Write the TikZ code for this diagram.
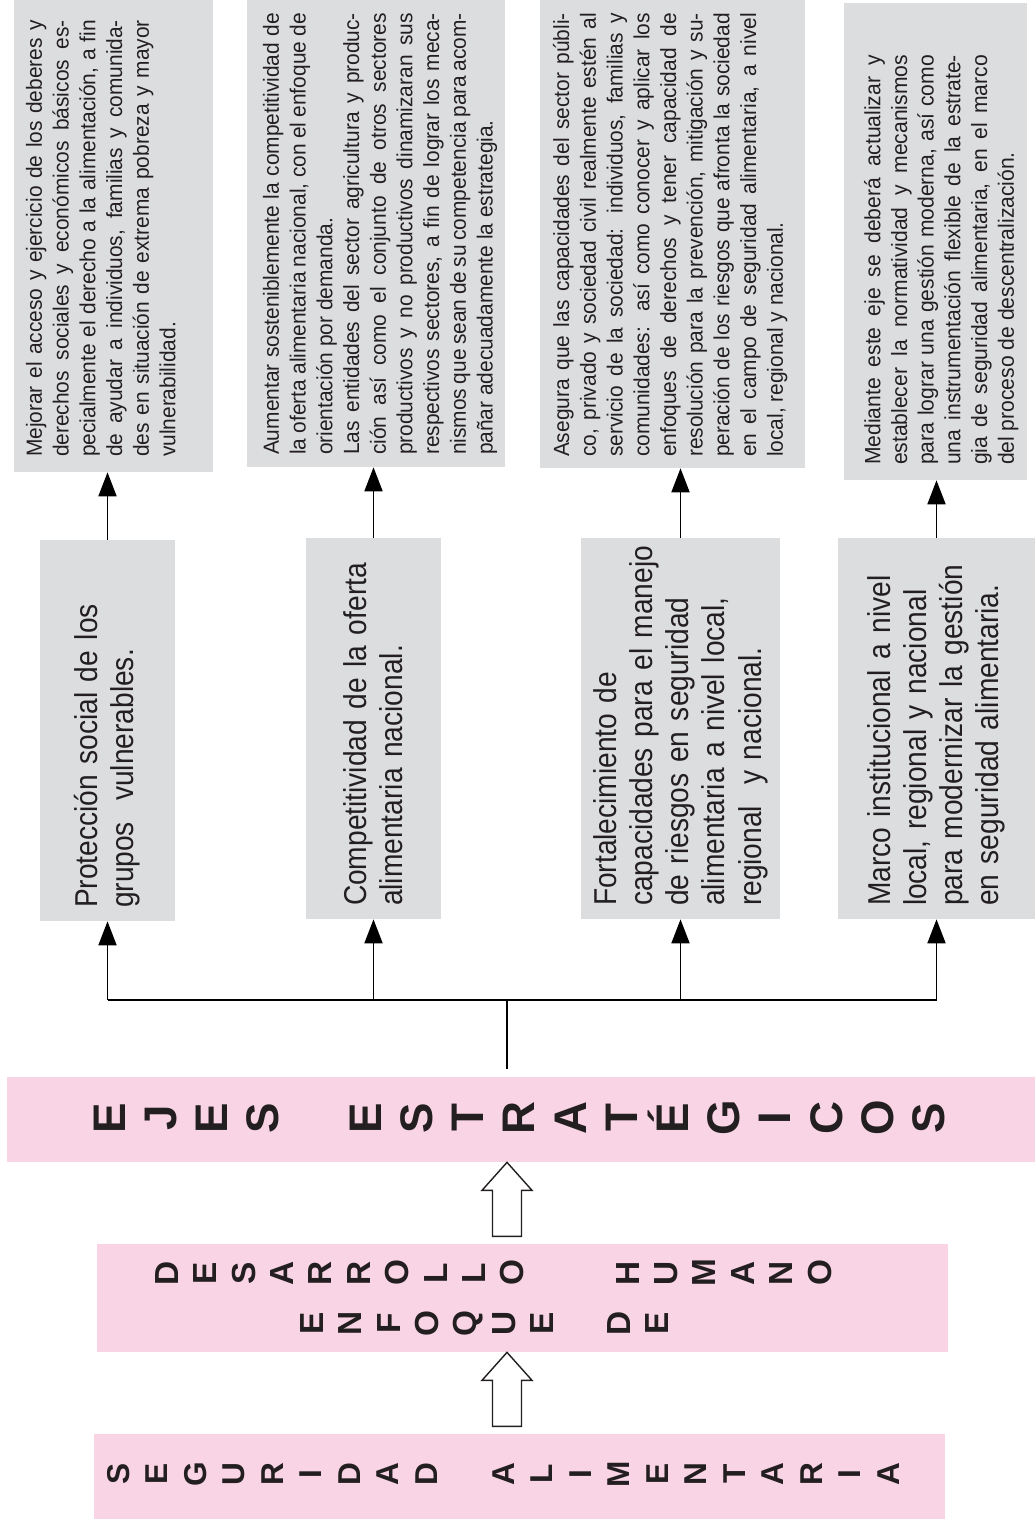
\documentclass[tikz,border=0pt]{standalone}
\usepackage{fontspec}
\setmainfont{Liberation Sans}
\newfontfamily\tituloface[FakeStretch=0.89]{Liberation Sans}
\newfontfamily\descface[FakeStretch=0.952]{Liberation Sans}
\usetikzlibrary{calc,positioning,arrows.meta}
\definecolor{cajagris}{HTML}{DCDDDF}
\definecolor{cajarosa}{HTML}{F9D4E4}
\definecolor{tinta}{HTML}{231F20}

\tikzset{
    descbox/.style={rotate=90, fill=cajagris, inner sep=0pt},
    desctext/.style={rotate=90, anchor=north west, inner sep=0pt, align=justify,
        font=\descface\fontsize{12.5}{15.2}\selectfont},
    titlebox/.style={rotate=90, fill=cajagris, inner xsep=0.26cm, inner ysep=0pt,
        text width=7.1cm, minimum width=7.62cm, align=left,
        font=\tituloface\fontsize{18}{20.6}\selectfont},
    rosabox/.style={fill=cajarosa, inner sep=0pt},
    letra/.style={rotate=90, inner sep=0pt, text height=0.72em, text depth=0pt,
        font=\bfseries\fontsize{#1}{#1}\selectfont},
    flecha/.style={line width=1pt, -{Triangle[length=0.48cm,width=0.36cm]}},
    bloque/.style={line width=0.8pt, draw=tinta, fill=white}
}

\newcommand{\flechahueca}[1]{%
    \draw[bloque] #1 -- ++(25,28) -- ++(-10.5,0) -- ++(0,46) -- ++(-29,0) -- ++(0,-46) -- ++(-10.5,0) -- cycle;}

\begin{document}
\begin{tikzpicture}[x=0.02cm, y=-0.02cm, every node/.style={text=tinta}]
    \useasboundingbox (0,0) rectangle (1035,1521);

    % Description boxes (top row)
    \node[descbox, minimum width=9.44cm, minimum height=3.98cm] (d1) at (113.5,236) {};
    \node[descbox, minimum width=9.34cm, minimum height=5.16cm] (d2) at (376,233.5) {};
    \node[descbox, minimum width=9.36cm, minimum height=5.3cm] (d3) at (672.5,234) {};
    \node[descbox, minimum width=9.54cm, minimum height=3.66cm] (d4) at (935.5,241.5) {};

    \node[desctext, text width=8.74cm] (d1txt) at ($(d1.north west)+(12,-15)$)
        {Mejorar el acceso y ejercicio de los deberes y\linebreak
        derechos sociales y económicos básicos es-\linebreak
        pecialmente el derecho a la alimentación, a fin\linebreak
        de ayudar a individuos, familias y comunida-\linebreak
        des en situación de extrema pobreza y mayor\linebreak
        vulnerabilidad.};
    \node[desctext, text width=8.84cm] (d2txt) at ($(d2.north west)+(16,-12)$)
        {Aumentar sosteniblemente la competitividad de\linebreak
        la oferta alimentaria nacional, con el enfoque de\linebreak
        orientación por demanda.\\
        Las entidades del sector agricultura y produc-\linebreak
        ción así como el conjunto de otros sectores\linebreak
        productivos y no productivos dinamizaran sus\linebreak
        respectivos sectores, a fin de lograr los meca-\linebreak
        nismos que sean de su competencia para acom-\linebreak
        pañar adecuadamente la estrategia.};
    \node[desctext, text width=8.88cm] (d3txt) at ($(d3.north west)+(13,-11)$)
        {Asegura que las capacidades del sector públi-\linebreak
        co, privado y sociedad civil realmente estén al\linebreak
        servicio de la sociedad: individuos, familias y\linebreak
        comunidades: así como conocer y aplicar los\linebreak
        enfoques de derechos y tener capacidad de\linebreak
        resolución para la prevención, mitigación y su-\linebreak
        peración de los riesgos que afronta la sociedad\linebreak
        en el campo de seguridad alimentaria, a nivel\linebreak
        local, regional y nacional.};
    \node[desctext, text width=8.2cm, font=\descface\fontsize{12.6}{15.2}\selectfont] (d4txt) at ($(d4.north west)+(20,-15)$)
        {Mediante este eje se deberá actualizar y\linebreak
        establecer la normatividad y mecanismos\linebreak
        para lograr una gestión moderna, así como\linebreak
        una instrumentación flexible de la estrate-\linebreak
        gia de seguridad alimentaria, en el marco\linebreak
        del proceso de descentralización.};

    % Strategic axes (second row)
    \node[titlebox, minimum height=2.7cm] (t1) at (107.5,730.5)
        {Protección social de los\\ grupos\ \ vulnerables.};
    \node[titlebox, minimum height=2.7cm] (t2) at (373.5,728.5)
        {Competitividad de la oferta\\ alimentaria nacional.};
    \node[titlebox, minimum height=3.98cm] (t3) at (680.5,728.5)
        {Fortalecimiento de\\ capacidades~para~el~manejo\\ de riesgos en seguridad\\ alimentaria a nivel local,\\ regional\ \ y nacional.};
    \node[titlebox, minimum height=3.94cm] (t4) at (936.5,728.5)
        {Marco institucional a nivel\\ local, regional y nacional\\ para modernizar la gestión\\ en seguridad alimentaria.};

    % Arrows to the description boxes
    \foreach \t/\d in {t1/d1,t2/d2,t3/d3,t4/d4}
        \draw[flecha] (\t.east) -- (\t.east |- \d.west);

    % Pink bands
    \node[rosabox, minimum width=20.56cm, minimum height=1.7cm] (ejes) at (521,1119.5) {};
    \node[rosabox, minimum width=17.02cm, minimum height=2.16cm] (desa) at (522.5,1298) {};
    \node[rosabox, minimum width=17.02cm, minimum height=1.7cm] (segu) at (519.5,1476.5) {};

    % Spaced capitals
    \foreach \l [count=\i from 0] in {E,J,E,S,{},E,S,T,R,A,T,É,G,I,C,O,S} {
        \pgfmathsetmacro{\lx}{119+\i*51.2}
        \node[letra=26] (ej\i) at (\lx,1118) {\l};
    }
    \foreach \l [count=\i from 0] in {D,E,S,A,R,R,O,L,L,O,{},{},H,U,M,A,N,O} {
        \pgfmathsetmacro{\lx}{172+\i*38.4}
        \node[letra=19] (dh\i) at (\lx,1273) {\l};
    }
    \foreach \l [count=\i from 0] in {E,N,F,O,Q,U,E,{},D,E} {
        \pgfmathsetmacro{\lx}{317+\i*38.4}
        \node[letra=19] (en\i) at (\lx,1323) {\l};
    }
    \foreach \l [count=\i from 0] in {S,E,G,U,R,I,D,A,D,{},A,L,I,M,E,N,T,A,R,I,A} {
        \pgfmathsetmacro{\lx}{123+\i*38.5}
        \node[letra=18] (sa\i) at (\lx,1474) {\l};
    }

    % Bus from the axes band to the four boxes
    \coordinate (bus) at (507,1000);
    \draw[line width=1pt] (ejes.north -| bus) ++(0,-8) -- (bus);
    \draw[line width=1pt] (t1.west |- bus) -- (t4.west |- bus);
    \foreach \t in {t1,t2,t3,t4}
        \draw[flecha] (\t.west |- bus) -- (\t.west);

    % Hollow arrows
    \flechahueca{(ejes.south -| bus)}
    \flechahueca{(desa.south -| bus)}
\end{tikzpicture}
\end{document}
